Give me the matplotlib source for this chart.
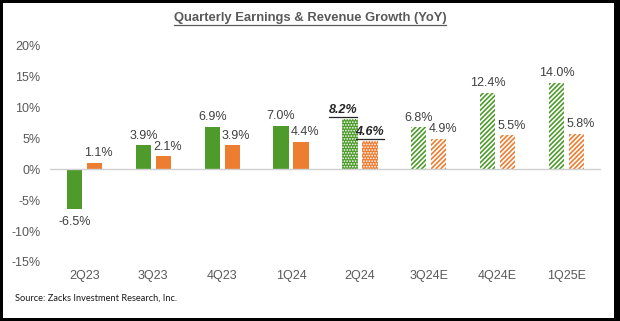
import matplotlib.pyplot as plt
import matplotlib.patches as patches
from matplotlib.lines import Line2D
import numpy as np

quarters = ['2Q23', '3Q23', '4Q23', '1Q24', '2Q24', '3Q24E', '4Q24E', '1Q25E']
earnings = [-6.5, 3.9, 6.9, 7.0, 8.2, 6.8, 12.4, 14.0]
revenue = [1.1, 2.1, 3.9, 4.4, 4.6, 4.9, 5.5, 5.8]
# fill style per quarter: actual, current (dotted), estimate (hatched)
styles = ['solid', 'solid', 'solid', 'solid', 'dots', 'diag', 'diag', 'diag']
yticks = [-15, -10, -5, 0, 5, 10, 15, 20]

green = '#4E9B2C'
orange = '#ED7D31'
grey = '#595959'

fig = plt.figure(figsize=(6.2, 3.21), dpi=100)
ax = fig.add_axes([50 / 620, 0.184, 551 / 620, 0.673])

x = np.arange(len(quarters))
w = 0.22
off = 0.145

for i in x:
    for val, col, dx in [(earnings[i], green, -off), (revenue[i], orange, off)]:
        st = styles[i]
        if st == 'solid':
            ax.bar(i + dx, val, w, color=col, linewidth=0)
        elif st == 'dots':
            with plt.rc_context({'hatch.linewidth': 0.8}):
                ax.bar(i + dx, val, w, facecolor=col, edgecolor='white', hatch='......', linewidth=0)
        else:
            with plt.rc_context({'hatch.linewidth': 1.2}):
                ax.bar(i + dx, val, w, facecolor='white', edgecolor=col, hatch='///////', linewidth=0)

        txt = f'{val:.1f}%'
        if st == 'dots':
            t = ax.text(i + dx + (-0.1 if dx < 0 else 0.0), val + 0.4, txt, ha='center', va='bottom',
                        fontsize=9, color='#262626', fontweight='bold', fontstyle='italic',
                        family='Liberation Sans')
            t._underline = True
        elif val < 0:
            ax.text(i + dx, val - 1.0, txt, ha='center', va='top', fontsize=9,
                    color='#404040', family='Liberation Sans')
        else:
            ax.text(i + dx + (0.06 if dx > 0 else 0), val + 0.6, txt, ha='center', va='bottom',
                    fontsize=9, color='#404040', family='Liberation Sans')

ax.axhline(0, color='#D0D0D0', linewidth=1)
ax.set_xlim(-0.5, len(quarters) - 0.5)
ax.set_ylim(-15, 20)
ax.set_yticks(yticks)
ax.set_yticklabels([f'{v}%' for v in yticks])
ax.set_xticks(x)
ax.set_xticklabels(quarters)
ax.tick_params(axis='both', length=0, labelsize=9, colors=grey)
ax.tick_params(axis='x', pad=6)
ax.tick_params(axis='y', pad=7)
for lab in ax.get_xticklabels() + ax.get_yticklabels():
    lab.set_family('Liberation Sans')
for s in ax.spines.values():
    s.set_visible(False)

title = fig.text(0.5, 0.945, 'Quarterly Earnings & Revenue Growth (YoY)', ha='center', va='center',
                 fontsize=9.4, fontweight='bold', color=grey, family='Liberation Sans')
title._underline = True
fig.text(0.024, 0.072, 'Source: Zacks Investment Research, Inc.', ha='left', va='center',
         fontsize=6.7, color='#1a1a1a', family='Lato')

# underlines under flagged texts
fig.canvas.draw()
r = fig.canvas.get_renderer()
for t in ax.texts + fig.texts:
    if getattr(t, '_underline', False):
        bb = t.get_window_extent(r)
        y0 = bb.y0 - 1
        fig.add_artist(Line2D([bb.x0 / 620, bb.x1 / 620], [y0 / 321, y0 / 321],
                              color=t.get_color(), linewidth=0.9, transform=fig.transFigure))

# black frame
for rect in [(0, 0, 1, 3 / 321), (0, 1 - 3 / 321, 1, 3 / 321), (0, 0, 3 / 620, 1), (1 - 6 / 620, 0, 6 / 620, 1)]:
    fig.add_artist(patches.Rectangle(rect[:2], rect[2], rect[3], transform=fig.transFigure,
                                     color='black', linewidth=0))

fig.savefig('out.png', dpi=100, facecolor='white')
